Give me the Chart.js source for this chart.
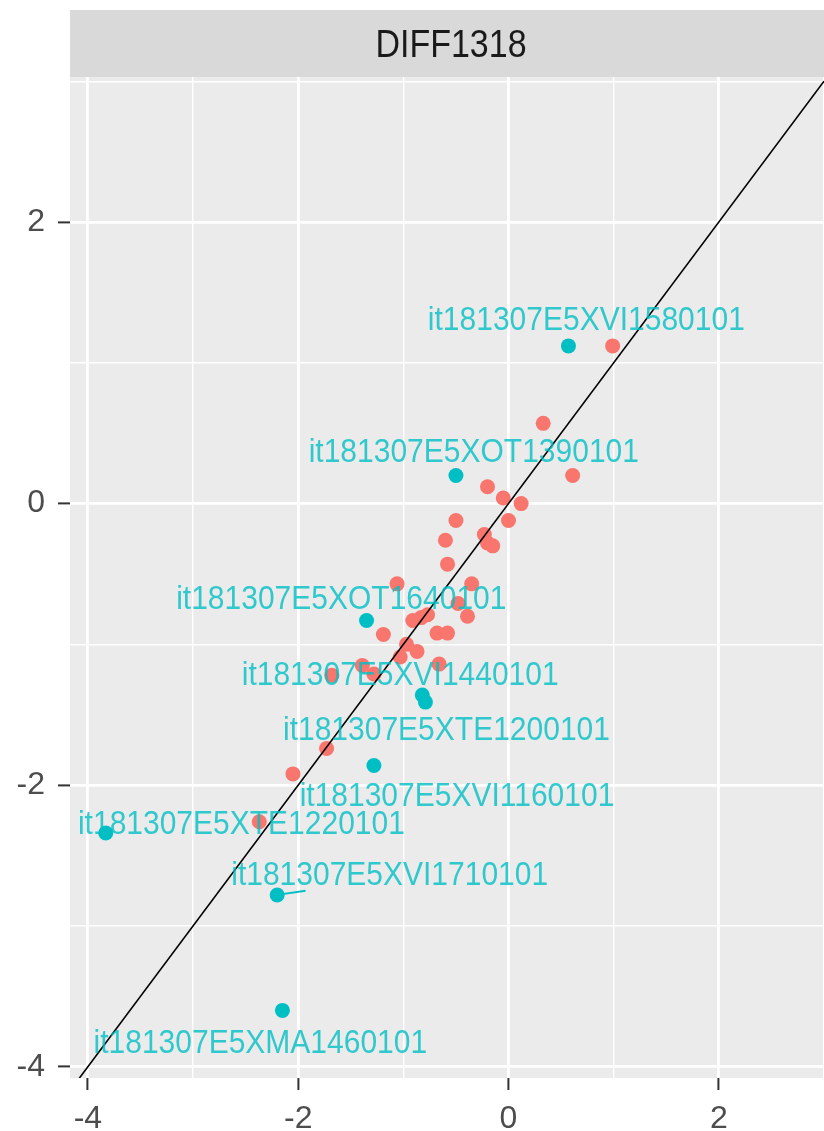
<!DOCTYPE html>
<html>
<head>
<meta charset="utf-8">
<script src="https://cdn.jsdelivr.net/npm/chart.js@4.4.0/dist/chart.umd.min.js"></script>
<style>
body { margin: 0; background: #fff; }
#wrap { width: 824px; height: 1131px; }
</style>
</head>
<body>
<div id="wrap"><canvas id="grafico" width="824" height="1131"></canvas></div>
<script>
const panelTitle = 'DIFF1318';

const redX = [0.99, 0.33, 0.61, -0.20, -0.05, 0.12, 0.00, -0.50, -0.60, -0.23, -0.20, -0.15, -0.58, -0.35, -1.06, -0.48, -0.39,
  -0.77, -0.83, -0.91, -0.68, -0.58, -1.19, -0.97, -0.87, -1.03, -0.66, -1.28, -1.39, -1.68, -1.73, -2.05, -2.37];
const redY = [1.12, 0.57, 0.20, 0.12, 0.04, 0.00, -0.12, -0.12, -0.26, -0.22, -0.28, -0.30, -0.43, -0.57, -0.57, -0.71, -0.80,
  -0.79, -0.81, -0.83, -0.92, -0.92, -0.93, -1.00, -1.05, -1.09, -1.14, -1.21, -1.15, -1.22, -1.74, -1.92, -2.26];

const tealX = [0.57, -0.50, -1.35, -0.82, -0.79, -1.28, -3.83, -2.20, -2.15];
const tealY = [1.12, 0.20, -0.83, -1.36, -1.41, -1.86, -2.34, -2.78, -3.60];
const tealNames = ['it181307E5XVI1580101', 'it181307E5XOT1390101', 'it181307E5XOT1640101', 'it181307E5XVI1440101',
  'it181307E5XTE1200101', 'it181307E5XVI1160101', 'it181307E5XTE1220101', 'it181307E5XVI1710101', 'it181307E5XMA1460101'];

// where the repelled names sit (data units), plus the one leader segment
const nameX = [0.74, -0.33, -1.59, -1.03, -0.59, -0.49, -2.54, -1.13, -2.36];
const nameY = [1.30, 0.36, -0.68, -1.22, -1.61, -2.08, -2.28, -2.64, -3.84];
const segEndX = [null, null, null, null, null, null, null, -1.93, null];
const segEndY = [null, null, null, null, null, null, null, -2.75, null];

const xTicks = [-4, -3, -2, -1, 0, 1, 2, 3];
const yTicks = [-4, -3, -2, -1, 0, 1, 2, 3];
const xLim = [-4.17, 3.0];
const yLim = [-4.08, 3.03];
const abIntercept = 0;
const abSlope = 1;

const fonte = '"Liberation Sans", Arial, sans-serif';

const painel = {
  id: 'painel',
  beforeDraw(chart) {
    const ctx = chart.ctx;
    const a = chart.chartArea;
    ctx.save();
    ctx.fillStyle = '#EBEBEB';
    ctx.fillRect(a.left, a.top, a.right - a.left, a.bottom - a.top);
    ctx.fillStyle = '#D9D9D9';
    ctx.fillRect(a.left, 10, a.right - a.left, a.top - 10);
    ctx.fillStyle = '#1A1A1A';
    ctx.font = '34px ' + fonte;
    ctx.textAlign = 'center';
    ctx.textBaseline = 'middle';
    ctx.translate((a.left + a.right) / 2 + 4, (10 + a.top) / 2 + 3);
    ctx.scale(1, 1.12);
    ctx.fillText(panelTitle, 0, 0);
    ctx.restore();
  }
};

const rotulos = {
  id: 'rotulos',
  afterDatasetsDraw(chart) {
    const ctx = chart.ctx;
    const sx = chart.scales.x;
    const sy = chart.scales.y;
    ctx.save();
    ctx.strokeStyle = '#00BFC4';
    ctx.lineWidth = 1.8;
    tealNames.forEach((n, i) => {
      if (segEndX[i] === null) return;
      ctx.beginPath();
      ctx.moveTo(sx.getPixelForValue(tealX[i]), sy.getPixelForValue(tealY[i]));
      ctx.lineTo(sx.getPixelForValue(segEndX[i]), sy.getPixelForValue(segEndY[i]));
      ctx.stroke();
    });
    ctx.fillStyle = 'rgba(0, 191, 196, 0.8)';
    ctx.font = '30px ' + fonte;
    ctx.textAlign = 'center';
    ctx.textBaseline = 'middle';
    tealNames.forEach((n, i) => {
      ctx.save();
      ctx.translate(sx.getPixelForValue(nameX[i]), sy.getPixelForValue(nameY[i]));
      ctx.scale(1, 1.12);
      ctx.fillText(n, 0, 0);
      ctx.restore();
    });
    ctx.restore();
  }
};

function eixo(ticks, lim, pad) {
  return {
    type: 'linear',
    min: lim[0],
    max: lim[1],
    afterBuildTicks: (s) => { s.ticks = ticks.map(v => ({ value: v })); },
    border: { display: false },
    grid: {
      color: '#FFFFFF',
      lineWidth: (c) => (c.tick && c.tick.value % 2 === 0) ? 2.8 : 1.4,
      tickColor: (c) => (c.tick && c.tick.value % 2 === 0) ? '#333333' : 'rgba(0,0,0,0)',
      tickLength: 12,
      tickWidth: 2
    },
    ticks: {
      autoSkip: false,
      maxRotation: 0,
      padding: pad,
      color: '#4D4D4D',
      font: { size: 32, family: fonte },
      callback: (v) => v % 2 === 0 ? String(v) : ''
    }
  };
}

const xScale = eixo(xTicks, xLim, 10);
xScale.afterFit = (s) => { s.height = 53; s.paddingLeft = 0; s.paddingRight = 0; };
const yScale = eixo(yTicks, yLim, 13);
yScale.afterFit = (s) => { s.width = 70; s.paddingTop = 0; s.paddingBottom = 0; };

const grafico = document.getElementById('grafico').getContext('2d');
const myChart = new Chart(grafico, {
  type: 'scatter',
  data: {
    datasets: [
      {
        type: 'line',
        data: xLim.map(v => ({ x: v, y: abIntercept + abSlope * v })),
        borderColor: '#000000',
        borderWidth: 1.6,
        pointRadius: 0,
        fill: false
      },
      {
        data: redX.map((v, i) => ({ x: v, y: redY[i] })),
        backgroundColor: '#F8766D',
        borderWidth: 0,
        pointRadius: 7.5
      },
      {
        data: tealX.map((v, i) => ({ x: v, y: tealY[i] })),
        backgroundColor: '#00BFC4',
        borderWidth: 0,
        pointRadius: 7.5
      }
    ]
  },
  options: {
    responsive: false,
    animation: false,
    events: [],
    layout: { autoPadding: false, padding: { top: 77, left: 0, right: 0, bottom: 0 } },
    plugins: { legend: { display: false }, tooltip: { enabled: false } },
    scales: { x: xScale, y: yScale }
  },
  plugins: [painel, rotulos]
});
</script>
</body>
</html>
